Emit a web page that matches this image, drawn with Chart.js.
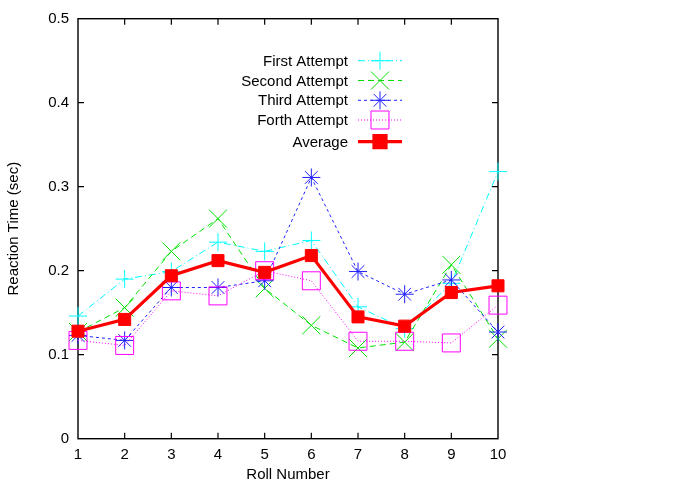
<!DOCTYPE html>
<html>
<head>
<meta charset="utf-8">
<script src="https://cdn.jsdelivr.net/npm/chart.js@4"></script>
<style>
html,body{margin:0;padding:0;background:#fff;}
canvas{display:block;}
</style>
</head>
<body>
<canvas id="c" width="692" height="485"></canvas>
<script>
const rolls = ['1','2','3','4','5','6','7','8','9','10'];
const firstAttempt  = [0.146, 0.190, 0.199, 0.234, 0.223, 0.236, 0.157, 0.131, 0.185, 0.318];
const secondAttempt = [0.127, 0.156, 0.223, 0.262, 0.179, 0.135, 0.108, 0.115, 0.207, 0.119];
const thirdAttempt  = [0.123, 0.117, 0.180, 0.180, 0.188, 0.311, 0.199, 0.172, 0.189, 0.127];
const forthAttempt  = [0.117, 0.111, 0.176, 0.170, 0.200, 0.188, 0.116, 0.116, 0.114, 0.159];
const average       = [0.128, 0.142, 0.194, 0.212, 0.198, 0.218, 0.145, 0.134, 0.174, 0.182];
const seriesNames = ['First Attempt', 'Second Attempt', 'Third Attempt', 'Forth Attempt', 'Average'];
const yTicks = [0, 0.1, 0.2, 0.3, 0.4, 0.5];

const FONT = 'Liberation Sans, Arial, Helvetica, sans-serif';

const frameTicks = {
  id: 'frameTicks',
  beforeDatasetsDraw(chart) {
    const ctx = chart.ctx, a = chart.chartArea;
    const xs = chart.scales.x, ys = chart.scales.y;
    ctx.save();
    ctx.strokeStyle = '#000';
    ctx.lineWidth = 1.2;
    ctx.beginPath();
    const L = 6;
    xs.ticks.forEach((t, i) => {
      if (i === 0 || i === xs.ticks.length - 1) return;
      const px = xs.getPixelForTick(i);
      ctx.moveTo(px, a.bottom); ctx.lineTo(px, a.bottom - L);
      ctx.moveTo(px, a.top); ctx.lineTo(px, a.top + L);
    });
    ys.ticks.forEach((t) => {
      if (t.value === ys.min || t.value === ys.max) return;
      const py = ys.getPixelForValue(t.value);
      ctx.moveTo(a.left, py); ctx.lineTo(a.left + L, py);
      ctx.moveTo(a.right, py); ctx.lineTo(a.right - L, py);
    });
    ctx.stroke();
    ctx.lineWidth = 1.4;
    ctx.strokeRect(a.left, a.top, a.right - a.left, a.bottom - a.top);
    ctx.restore();
  }
};

const keyLegend = {
  id: 'keyLegend',
  afterDatasetsDraw(chart) {
    const ctx = chart.ctx;
    const rowsY = [60.7, 80.5, 100.3, 120, 141.7];
    const textX = 348, x0 = 358, x1 = 402, mx = 380;
    ctx.save();
    ctx.font = '15px ' + FONT;
    ctx.textAlign = 'right';
    ctx.textBaseline = 'middle';
    const order = [1, 2, 3, 4, 0];
    order.forEach((di, row) => {
      const ds = chart.data.datasets[di];
      const y = rowsY[row];
      ctx.fillStyle = '#000';
      ctx.fillText(ds.label, textX, y + 1);
      ctx.strokeStyle = ds.borderColor;
      ctx.lineWidth = ds.borderWidth;
      ctx.setLineDash(ds.borderDash || []);
      ctx.beginPath();
      ctx.moveTo(x0, y); ctx.lineTo(x1, y);
      ctx.stroke();
      ctx.setLineDash([]);
      ctx.strokeStyle = ds.pointBorderColor;
      ctx.fillStyle = ds.pointBackgroundColor;
      Chart.helpers.drawPoint(ctx, {
        pointStyle: ds.pointStyle,
        radius: ds.pointRadius,
        rotation: 0,
        borderWidth: ds.pointBorderWidth
      }, mx, y);
    });
    ctx.restore();
  }
};

function mk(label, data, color, dash, style, radius, order) {
  return {
    label, data,
    borderColor: color,
    borderWidth: 1,
    borderDash: dash,
    pointStyle: style,
    pointRadius: radius,
    pointHoverRadius: radius,
    pointBorderColor: color,
    pointBackgroundColor: 'rgba(0,0,0,0)',
    pointBorderWidth: 1,
    tension: 0,
    fill: false,
    order
  };
}

const datasets = [
  Object.assign(mk(seriesNames[4], average, '#ff0000', [], 'rect', 8.5, 1), {
    borderWidth: 3.2, pointBackgroundColor: '#ff0000', pointBorderWidth: 1
  }),
  mk(seriesNames[0], firstAttempt, '#00ffff', [7, 3, 1, 3], 'cross', 9, 5),
  mk(seriesNames[1], secondAttempt, '#00e000', [6, 4], 'crossRot', 12.7, 4),
  mk(seriesNames[2], thirdAttempt, '#2020ff', [3, 3], 'star', 9, 3),
  mk(seriesNames[3], forthAttempt, '#ff00ff', [1, 2], 'rect', 12.7, 2)
];

new Chart(document.getElementById('c'), {
  type: 'line',
  data: { labels: rolls, datasets },
  options: {
    responsive: false,
    animation: false,
    events: [],
    layout: { padding: { left: 0, right: 194, top: 18.7, bottom: 0 } },
    plugins: {
      legend: { display: false },
      tooltip: { enabled: false },
      title: { display: false }
    },
    scales: {
      x: {
        type: 'category',
        offset: false,
        grid: { display: false, drawTicks: false },
        border: { display: false },
        ticks: {
          color: '#000', font: { family: FONT, size: 15 }, padding: 7,
          maxRotation: 0, autoSkip: false
        },
        title: {
          display: true, text: 'Roll Number', color: '#000',
          font: { family: FONT, size: 15 }, padding: { top: 0, bottom: 1 }
        },
        afterFit(s) { s.height = 46.3; }
      },
      y: {
        type: 'linear', min: yTicks[0], max: yTicks[yTicks.length - 1],
        afterBuildTicks(s) { s.ticks = yTicks.map(v => ({ value: v })); },
        grid: { display: false, drawTicks: false },
        border: { display: false },
        ticks: {
          color: '#000', font: { family: FONT, size: 15 }, padding: 9,
          callback: v => String(v)
        },
        title: {
          display: true, text: 'Reaction Time (sec)', color: '#000',
          font: { family: FONT, size: 15 }, padding: { top: 5, bottom: 0 }
        },
        afterFit(s) { s.width = 78; }
      }
    }
  },
  plugins: [frameTicks, keyLegend]
});
</script>
</body>
</html>
